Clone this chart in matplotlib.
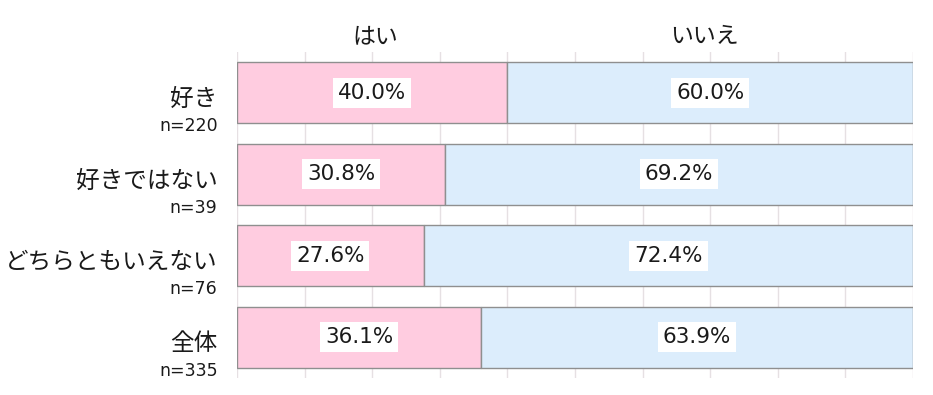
import matplotlib; matplotlib.use('Agg')

import matplotlib.pyplot as plt
import numpy as np

plt.rcParams['font.family'] = ['Noto Sans CJK JP', 'DejaVu Sans']
LATIN = ['DejaVu Sans', 'Noto Sans CJK JP']

categories = ["好き", "好きではない", "どちらともいえない", "全体"]
counts = [220, 39, 76, 335]
series = ["はい", "いいえ"]
yes_vals = [40.0, 30.8, 27.6, 36.1]
no_vals = [60.0, 69.2, 72.4, 63.9]
colors = ["#ffcce0", "#dcedfc"]

fig = plt.figure(figsize=(9.33, 3.95), dpi=100)
ax = fig.add_axes([0.254, 0.043, 0.7246, 0.825])

y = np.arange(len(categories))
h = 0.75
ax.barh(y, yes_vals, height=h, color=colors[0], edgecolor="#8f8f8f", linewidth=1, zorder=2)
ax.barh(y, no_vals, left=yes_vals, height=h, color=colors[1], edgecolor="#8f8f8f", linewidth=1, zorder=2)

for i in range(len(categories)):
    for left, v in [(0, yes_vals[i]), (yes_vals[i], no_vals[i])]:
        ax.text(left + v / 2, y[i], f"{v:.1f}%", ha="center", va="center", fontsize=15.5,
                family=LATIN, color="#1a1a1a", zorder=3,
                bbox=dict(facecolor="white", edgecolor="none", pad=3.5))

# series headers above the first row
ax.annotate(series[0], xy=(yes_vals[0] / 2, -0.5), xytext=(2, 11), textcoords="offset points",
            ha="center", va="center", fontsize=16.5, color="#1a1a1a", annotation_clip=False)
ax.annotate(series[1], xy=(yes_vals[0] + no_vals[0] / 2, -0.5), xytext=(-4, 11), textcoords="offset points",
            ha="center", va="center", fontsize=16.5, color="#1a1a1a", annotation_clip=False)

# category labels with n
for i, (c, n) in enumerate(zip(categories, counts)):
    ax.annotate(c, xy=(0, y[i]), xytext=(-14, -3), textcoords="offset points",
                ha="right", va="center_baseline", fontsize=17, color="#1a1a1a", annotation_clip=False)
    ax.annotate(f"n={n}", xy=(0, y[i]), xytext=(-14, -24), textcoords="offset points",
                ha="right", va="center", fontsize=12.5, family=LATIN, color="#1a1a1a",
                annotation_clip=False)

ax.set_xlim(0, 100)
ax.set_ylim(len(categories) - 0.5, -0.5)
ax.set_xticks(np.arange(0, 101, 10))
ax.grid(axis="x", color="#e6e0e3", linewidth=1, zorder=0)
ax.tick_params(length=0, labelbottom=False, labelleft=False)
for s in ax.spines.values():
    s.set_visible(False)

plt.savefig("out.png", dpi=100)
